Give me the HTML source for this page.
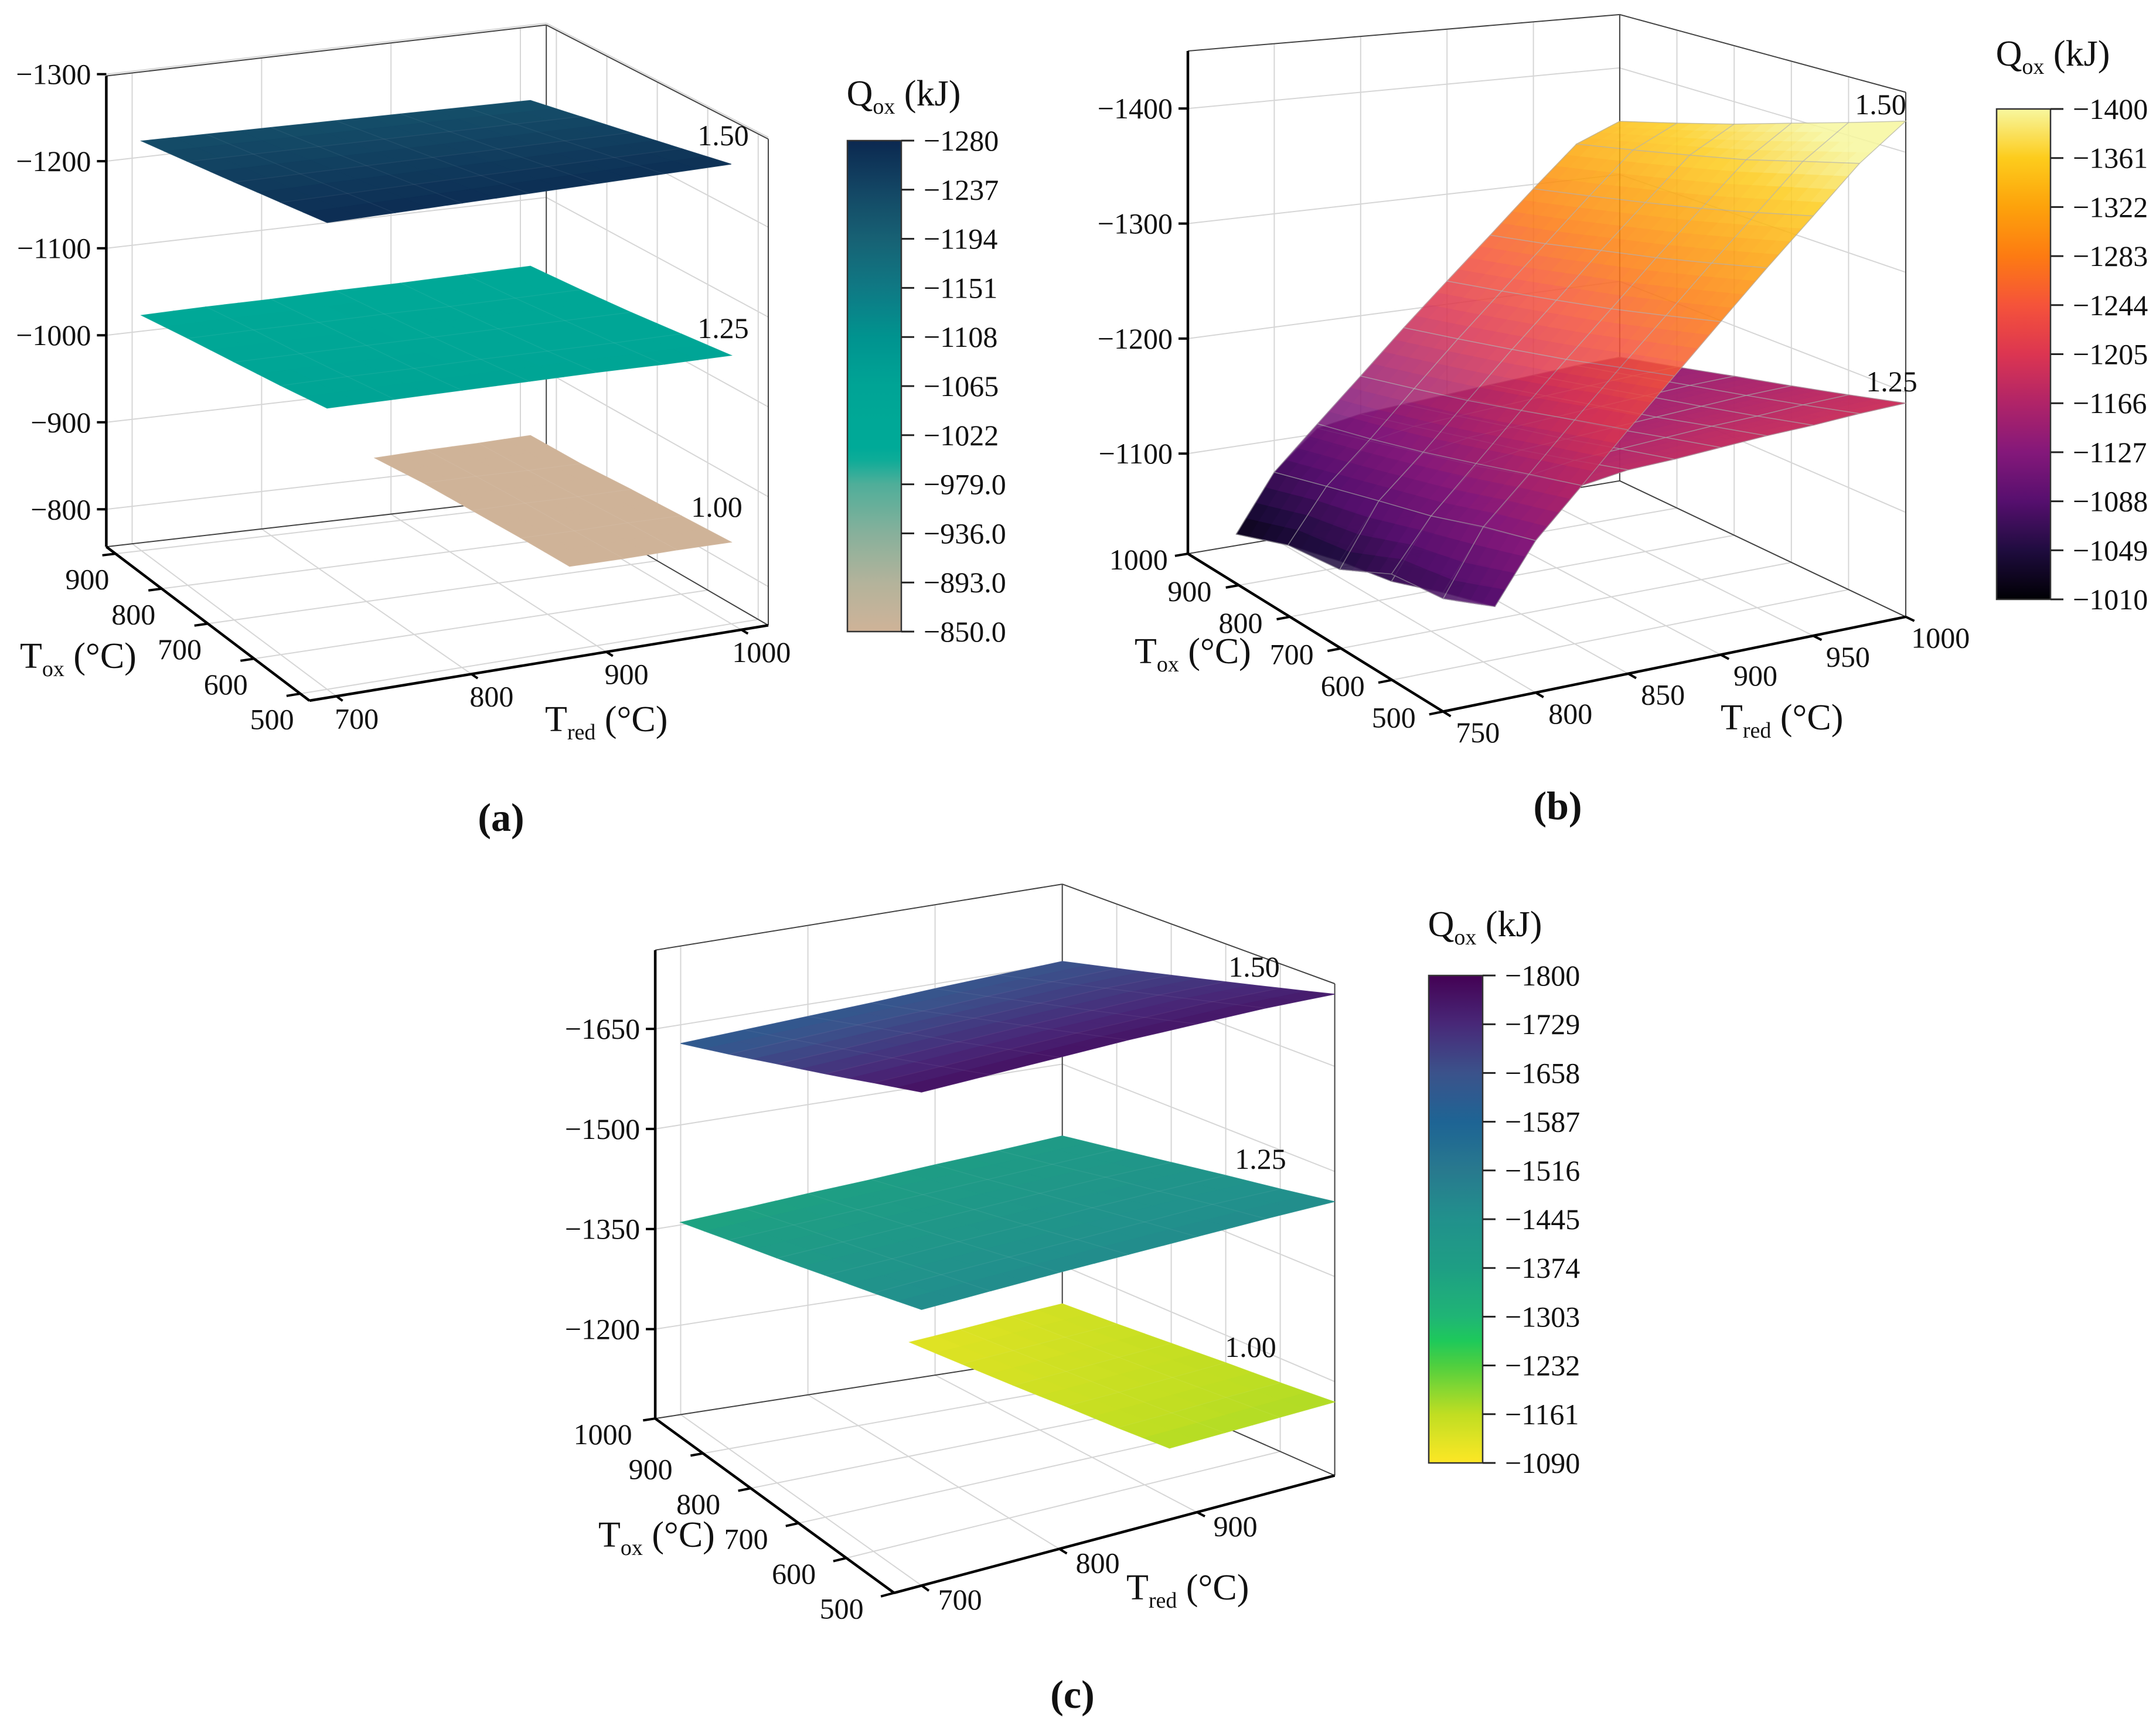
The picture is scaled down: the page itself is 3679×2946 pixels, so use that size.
<!DOCTYPE html>
<html><head><meta charset="utf-8"><style>
html,body{margin:0;padding:0;background:#fff;}
svg{display:block;}
text{font-family:"Liberation Serif",serif;fill:#111;}
</style></head><body>
<svg id="chart" xmlns="http://www.w3.org/2000/svg" width="3679" height="2946" viewBox="0 0 3679 2946">
<rect x="0" y="0" width="3679" height="2946" fill="#fff"/>
</svg>
<script>
// ---------------- DATA ----------------
const aTred = [700,750,800,850,900,950,1000];
const aTox = [500,600,700,800,900];
const aQ150 = [
 [-1275,-1274,-1273,-1272,-1271,-1270,-1269],
 [-1263,-1262,-1261,-1260,-1259,-1258,-1257],
 [-1251,-1250,-1249,-1248,-1247,-1246,-1245],
 [-1239,-1238,-1237,-1236,-1235,-1234,-1233],
 [-1227,-1226,-1225,-1224,-1223,-1222,-1221]];
const aQ125 = [
 [-1069,-1067,-1065,-1063,-1061,-1058,-1056],
 [-1058,-1057,-1055,-1054,-1052,-1050,-1049],
 [-1048,-1047,-1046,-1045,-1044,-1043,-1042],
 [-1038,-1038,-1037,-1037,-1036,-1036,-1036],
 [-1027,-1028,-1028,-1029,-1029,-1030,-1031]];
const aTred100 = [880,920,960,1000];
const aQ100 = [
 [-850,-849,-849,-848],
 [-847,-846,-846,-845],
 [-843,-843,-842,-842],
 [-839,-839,-838,-838],
 [-832,-834,-835,-837]];
const aXTicks = [700,800,900,1000];
const aYTicks = [500,600,700,800,900];
const aZTicks = [-800,-900,-1000,-1100,-1200,-1300];
const aCbarTicks = ["−1280","−1237","−1194","−1151","−1108","−1065","−1022","−979.0","−936.0","−893.0","−850.0"];

const bTred = [778,800,825,850,875,900,925,950,975,1000];
const bTox = [500,600,700,800,900,1000];
const bQ150 = [
 [-1087,-1133,-1170,-1208,-1245,-1283,-1321,-1358,-1396,-1426],
 [-1070,-1122,-1158,-1196,-1233,-1270,-1308,-1345,-1383,-1411],
 [-1066,-1108,-1145,-1183,-1220,-1257,-1295,-1332,-1369,-1396],
 [-1045,-1097,-1132,-1170,-1208,-1245,-1283,-1320,-1357,-1380],
 [-1040,-1085,-1120,-1158,-1196,-1233,-1270,-1308,-1345,-1365],
 [-1023,-1072,-1109,-1146,-1184,-1221,-1258,-1296,-1333,-1350]];
const bQ125 = [
 [-1087,-1133,-1170,-1176,-1178,-1181,-1184,-1186,-1189,-1191],
 [-1075,-1121,-1157,-1163,-1166,-1169,-1172,-1174,-1177,-1179],
 [-1060,-1108,-1143,-1150,-1153,-1156,-1159,-1162,-1165,-1167],
 [-1052,-1097,-1131,-1138,-1141,-1144,-1147,-1150,-1153,-1155],
 [-1040,-1085,-1118,-1125,-1128,-1131,-1134,-1137,-1140,-1142],
 [-1023,-1072,-1105,-1112,-1115,-1118,-1121,-1124,-1127,-1129]];
const bXTicks = [750,800,850,900,950,1000];
const bYTicks = [500,600,700,800,900,1000];
const bZTicks = [-1100,-1200,-1300,-1400];
const bCbarTicks = ["−1400","−1361","−1322","−1283","−1244","−1205","−1166","−1127","−1088","−1049","−1010"];

const cTred = [700,750,800,850,900,950,1000];
const cTox = [500,600,700,800,900,1000];
const cQ150 = [
 [-1774,-1772,-1770,-1768,-1764,-1760,-1753],
 [-1744,-1743,-1743,-1742,-1740,-1738,-1733],
 [-1713,-1714,-1715,-1716,-1716,-1716,-1713],
 [-1683,-1685,-1688,-1690,-1692,-1694,-1693],
 [-1652,-1656,-1660,-1663,-1667,-1671,-1673],
 [-1622,-1627,-1632,-1637,-1643,-1648,-1653]];
const cQ125 = [
 [-1462,-1462,-1462,-1461,-1460,-1459,-1457],
 [-1440,-1442,-1443,-1444,-1445,-1446,-1444],
 [-1419,-1421,-1424,-1426,-1429,-1431,-1432],
 [-1397,-1401,-1405,-1409,-1413,-1417,-1419],
 [-1376,-1381,-1386,-1391,-1396,-1401,-1406],
 [-1354,-1360,-1367,-1373,-1380,-1386,-1393]];
const cTred100 = [880,920,960,1000];
const cQ100 = [
 [-1168,-1169,-1170,-1171],
 [-1158,-1160,-1163,-1165],
 [-1149,-1152,-1156,-1160],
 [-1139,-1144,-1149,-1154],
 [-1130,-1136,-1142,-1148],
 [-1121,-1128,-1136,-1143]];
const cXTicks = [700,800,900];
const cYTicks = [500,600,700,800,900,1000];
const cZTicks = [-1200,-1350,-1500,-1650];
const cCbarTicks = ["−1800","−1729","−1658","−1587","−1516","−1445","−1374","−1303","−1232","−1161","−1090"];

// ---------------- GEOMETRY / STYLE ----------------
const NS = "http://www.w3.org/2000/svg";
const svg = document.getElementById('chart');
function mk(tag, parent){ const e=document.createElementNS(NS,tag); parent.appendChild(e); return e; }
function hex2rgb(h){ return [parseInt(h.slice(1,3),16),parseInt(h.slice(3,5),16),parseInt(h.slice(5,7),16)]; }
function cmap(stops, t){
  t=Math.max(0,Math.min(1,t));
  for(let i=0;i<stops.length-1;i++){
    const a=stops[i], b=stops[i+1];
    if(t<=b[0]){ const u=(t-a[0])/(b[0]-a[0]||1); const ca=hex2rgb(a[1]), cb=hex2rgb(b[1]);
      return 'rgb('+ca.map((v,k)=>Math.round(v+(cb[k]-v)*u)).join(',')+')'; }
  }
  return stops[stops.length-1][1];
}
const cmA=[[0,'#cfb398'],[0.1,'#b3b39b'],[0.2,'#87b09b'],[0.3,'#4fae99'],[0.36,'#00ab98'],[0.5,'#00a495'],[0.6,'#00938f'],[0.7,'#0f7984'],[0.8,'#176174'],[0.9,'#134664'],[1,'#0b2850']];
const cmB=[[0,'#000004'],[0.1,'#1f0c3f'],[0.2,'#560f6e'],[0.3,'#84187a'],[0.4,'#b02468'],[0.5,'#dc3551'],[0.6,'#f5533a'],[0.7,'#fd7b12'],[0.8,'#fda20b'],[0.9,'#fdcc1c'],[1,'#f7f79f']];
const cmC=[[0,'#fde725'],[0.1,'#c0de22'],[0.2,'#4fcf3f'],[0.25,'#1ec95a'],[0.3,'#1fb575'],[0.4,'#1e9e84'],[0.5,'#21918c'],[0.6,'#28798e'],[0.7,'#1e6494'],[0.8,'#3b528b'],[0.9,'#482878'],[1,'#440154']];

const PA={name:'a', t:[0,1.148,0,0.906], O:[460,1320],R:[1142,1178],L:[158,1030],B:[812,935],
  H:{O:920,R:916,L:887,B:888}, xr:[680,1020], yr:[480,920], zr:[757,1298],
  xoff:[30,42], yoff:[-42,48], cm:cmA, crange:[850,1280], mesh:'rgba(255,255,255,0.06)'};
const PB={name:'b', t:[1850,0.957,0,0.829], O:[640,1465],R:[1465,1270],L:[185,1140],B:[955,990],
  H:{O:1155,R:1080,L:1035,B:960}, xr:[750,1000], yr:[500,1000], zr:[1013,1450],
  xoff:[62,43], yoff:[-88,12], cm:cmB, crange:[1010,1400], mesh:'rgba(165,165,165,0.7)'};
const PC={name:'c', t:[900,1.148,1450,0.954], O:[545,1330],R:[1200,1120],L:[190,1018],B:[795,905],
  H:{O:875,R:880,L:838,B:843}, xr:[680,1000], yr:[500,1000], zr:[1066,1768],
  xoff:[57,25], yoff:[-78,28], cm:cmC, crange:[1090,1800], mesh:'rgba(255,255,255,0.06)'};

function proj(P, xv, yv, q){
  const fx=(xv-P.xr[0])/(P.xr[1]-P.xr[0]), fy=(yv-P.yr[0])/(P.yr[1]-P.yr[0]);
  const fz=(Math.abs(q)-P.zr[0])/(P.zr[1]-P.zr[0]);
  const w=[(1-fx)*(1-fy), fx*(1-fy), (1-fx)*fy, fx*fy];
  const zx=P.O[0]*w[0]+P.R[0]*w[1]+P.L[0]*w[2]+P.B[0]*w[3];
  const zy=P.O[1]*w[0]+P.R[1]*w[1]+P.L[1]*w[2]+P.B[1]*w[3];
  const h=P.H.O*w[0]+P.H.R*w[1]+P.H.L*w[2]+P.H.B*w[3];
  return [P.t[0]+P.t[1]*zx, P.t[2]+P.t[3]*(zy-h*fz)];
}
function line(g, p1, p2, stroke, sw){
  const l=mk('line',g); l.setAttribute('x1',p1[0].toFixed(1)); l.setAttribute('y1',p1[1].toFixed(1));
  l.setAttribute('x2',p2[0].toFixed(1)); l.setAttribute('y2',p2[1].toFixed(1));
  l.setAttribute('stroke',stroke); l.setAttribute('stroke-width',sw); return l;
}
function txt(g, x, y, s, size, anchor){
  const t=mk('text',g); t.setAttribute('x',x.toFixed(1)); t.setAttribute('y',y.toFixed(1));
  t.setAttribute('font-size',size); t.setAttribute('text-anchor',anchor||'middle'); t.textContent=s; return t;
}
function subText(g, x, y, main, sub, rest, size){
  const t=mk('text',g); t.setAttribute('x',x); t.setAttribute('y',y); t.setAttribute('font-size',size);
  const a=mk('tspan',t); a.textContent=main;
  const b=mk('tspan',t); b.setAttribute('font-size',Math.round(size*0.62)); b.setAttribute('dy',Math.round(size*0.22)); b.textContent=sub;
  const c=mk('tspan',t); c.setAttribute('dy',-Math.round(size*0.22)); c.textContent=rest;
  return t;
}

function drawBox(P, xt, yt, zt){
  const g=mk('g',svg);
  
  
  const X0=P.xr[0],X1=P.xr[1],Y0=P.yr[0],Y1=P.yr[1],Z0=-P.zr[0],Z1=-P.zr[1];
  const gc='#d6d6d6';
  xt.forEach(x=>{ line(g,proj(P,x,Y0,Z0),proj(P,x,Y1,Z0),gc,2); line(g,proj(P,x,Y1,Z0),proj(P,x,Y1,Z1),gc,2); });
  yt.forEach(y=>{ line(g,proj(P,X0,y,Z0),proj(P,X1,y,Z0),gc,2); line(g,proj(P,X1,y,Z0),proj(P,X1,y,Z1),gc,2); });
  zt.forEach(z=>{ line(g,proj(P,X0,Y1,z),proj(P,X1,Y1,z),gc,2); line(g,proj(P,X1,Y1,z),proj(P,X1,Y0,z),gc,2); });
  const ec='#444';
  line(g,proj(P,X1,Y1,Z0),proj(P,X1,Y1,Z1),ec,2);
  line(g,proj(P,X1,Y0,Z0),proj(P,X1,Y0,Z1),ec,2);
  line(g,proj(P,X0,Y1,Z1),proj(P,X1,Y1,Z1),ec,2);
  line(g,proj(P,X1,Y1,Z1),proj(P,X1,Y0,Z1),ec,2);
  line(g,proj(P,X0,Y1,Z0),proj(P,X1,Y1,Z0),ec,2);
  line(g,proj(P,X1,Y1,Z0),proj(P,X1,Y0,Z0),ec,2);
  return g;
}
function drawAxes(P, xt, yt, zt){
  const g=mk('g',svg);
  
  
  const X0=P.xr[0],X1=P.xr[1],Y0=P.yr[0],Y1=P.yr[1],Z0=-P.zr[0],Z1=-P.zr[1];
  line(g,proj(P,X0,Y0,Z0),proj(P,X1,Y0,Z0),'#000',4.5);
  line(g,proj(P,X0,Y0,Z0),proj(P,X0,Y1,Z0),'#000',4.5);
  line(g,proj(P,X0,Y1,Z0),proj(P,X0,Y1,Z1),'#000',4.5);
  const fs=50;
  xt.forEach(x=>{
    const p=proj(P,x,Y0,Z0), q=proj(P,x,Y0-(Y1-Y0)*0.03,Z0);
    line(g,p,q,'#000',4);
    const t=txt(g,p[0]+P.xoff[0]*P.t[1],p[1]+P.xoff[1]*P.t[3]+17,String(x),fs,'middle');
    
  });
  yt.forEach(y=>{
    const p=proj(P,X0,y,Z0), q=proj(P,X0-(X1-X0)*0.03,y,Z0);
    line(g,p,q,'#000',4);
    const t=txt(g,p[0]+P.yoff[0]*P.t[1],p[1]+P.yoff[1]*P.t[3]+17,String(y),fs,'middle');
    
  });
  zt.forEach(z=>{
    const p=proj(P,X0,Y1,z);
    line(g,p,[p[0]-16,p[1]],'#000',4);
    const t=txt(g,p[0]-26,p[1]+17,'−'+Math.abs(z),fs,'end');
    
  });
  return g;
}
function drawSurface(P, xs, ys, Q, name, opacity, sub){
  const g=mk('g',svg);
  
  
  if(opacity<1) g.setAttribute('opacity',opacity);
  const quads=[];
  const n=sub||1;
  for(let j=0;j<ys.length-1;j++) for(let i=0;i<xs.length-1;i++){
    const q00=Q[j][i], q10=Q[j][i+1], q01=Q[j+1][i], q11=Q[j+1][i+1];
    for(let sj=0;sj<n;sj++) for(let si=0;si<n;si++){
      const corners=[[si,sj],[si+1,sj],[si+1,sj+1],[si,sj+1]].map(([a,b])=>{
        const u=a/n, v=b/n;
        const xv=xs[i]+(xs[i+1]-xs[i])*u, yv=ys[j]+(ys[j+1]-ys[j])*v;
        const qv=q00*(1-u)*(1-v)+q10*u*(1-v)+q01*(1-u)*v+q11*u*v;
        return [xv,yv,qv];
      });
      const pts=corners.map(c=>proj(P,c[0],c[1],c[2]));
      const mean=corners.reduce((s,c)=>s+Math.abs(c[2]),0)/4;
      const depth=(i+(si+0.5)/n)/(xs.length-1)+(j+(sj+0.5)/n)/(ys.length-1);
      quads.push({pts,mean,depth});
    }
  }
  quads.sort((u,v)=>v.depth-u.depth);
  quads.forEach(qd=>{
    const p=mk('polygon',g);
    
    
    const col=cmap(P.cm,(qd.mean-P.crange[0])/(P.crange[1]-P.crange[0]));
    p.setAttribute('points',qd.pts.map(q=>q[0].toFixed(1)+','+q[1].toFixed(1)).join(' '));
    p.setAttribute('fill',col);
    p.setAttribute('stroke',col);
    p.setAttribute('stroke-width',1.2);
  });
  const mg=mk('g',g);
  
  
  for(let j=0;j<ys.length;j++) for(let i=0;i<xs.length-1;i++) line(mg,proj(P,xs[i],ys[j],Q[j][i]),proj(P,xs[i+1],ys[j],Q[j][i+1]),P.mesh,1.5);
  for(let i=0;i<xs.length;i++) for(let j=0;j<ys.length-1;j++) line(mg,proj(P,xs[i],ys[j],Q[j][i]),proj(P,xs[i],ys[j+1],Q[j+1][i]),P.mesh,1.5);
  return g;
}
function drawCbar(P, x, y, w, h, labels, title){
  const g=mk('g',svg);
  
  
  const defs=mk('defs',g); const lg=mk('linearGradient',defs);
  lg.setAttribute('id','grad'+P.name); lg.setAttribute('x1','0'); lg.setAttribute('y1','1'); lg.setAttribute('x2','0'); lg.setAttribute('y2','0');
  for(let k=0;k<=40;k++){ const s=mk('stop',lg); s.setAttribute('offset',k/40); s.setAttribute('stop-color',cmap(P.cm,k/40)); }
  const r=mk('rect',g); r.setAttribute('x',x); r.setAttribute('y',y); r.setAttribute('width',w); r.setAttribute('height',h);
  r.setAttribute('fill','url(#grad'+P.name+')'); r.setAttribute('stroke','#333'); r.setAttribute('stroke-width',2.5);
  labels.forEach((s,k)=>{
    const yy=y+h*k/(labels.length-1);
    line(g,[x+w,yy],[x+w+22,yy],'#222',3);
    const t=txt(g,x+w+38,yy+17,s,50,'start');
    
  });
  const tt=subText(g,0,0,'Q','ox',' (kJ)',62);
  tt.setAttribute('x',x+w/2+50); tt.setAttribute('y',title); tt.setAttribute('text-anchor','middle');
  
  return g;
}
function planeLabel(x,y,s){
  const t=txt(svg,x,y+17,s,50,'middle');
  
  
}

// ---------- Panel a ----------
drawBox(PA,aXTicks,aYTicks,aZTicks);
drawSurface(PA,aTred100,aTox,aQ100,'surface-a-1.00',1,2);
drawSurface(PA,aTred,aTox,aQ125,'surface-a-1.25',1,2);
drawSurface(PA,aTred,aTox,aQ150,'surface-a-1.50',1,2);
drawAxes(PA,aXTicks,aYTicks,aZTicks);
planeLabel(1234,231,'1.50'); planeLabel(1234,560,'1.25'); planeLabel(1223,865,'1.00');
drawCbar(PA,1446,240,92,838,aCbarTicks,180);
let t;
t=subText(svg,34,1140,'T','ox',' (°C)',62);  
t=subText(svg,930,1248,'T','red',' (°C)',62);  
t=txt(svg,855,1418,'(a)',68,'middle'); t.setAttribute('font-weight','bold');  

// ---------- Panel b ----------
drawBox(PB,bXTicks,bYTicks,bZTicks);
drawSurface(PB,bTred,bTox,bQ125,'surface-b-1.25',0.97,4);
drawSurface(PB,bTred,bTox,bQ150,'surface-b-1.50',0.86,4);
drawAxes(PB,bXTicks,bYTicks,bZTicks);
planeLabel(3209,178,'1.50'); planeLabel(3228,651,'1.25');
drawCbar(PB,3407,186,92,837,bCbarTicks,112);
t=subText(svg,1936,1132,'T','ox',' (°C)',62);  
t=subText(svg,2936,1245,'T','red',' (°C)',62);  
t=txt(svg,2658,1398,'(b)',68,'middle'); t.setAttribute('font-weight','bold');  

// ---------- Panel c ----------
drawBox(PC,cXTicks,cYTicks,cZTicks);
drawSurface(PC,cTred100,cTox,cQ100,'surface-c-1.00',1,2);
drawSurface(PC,cTred,cTox,cQ125,'surface-c-1.25',1,2);
drawSurface(PC,cTred,cTox,cQ150,'surface-c-1.50',1,2);
drawAxes(PC,cXTicks,cYTicks,cZTicks);
planeLabel(2140,1650,'1.50'); planeLabel(2151,1978,'1.25'); planeLabel(2134,2299,'1.00');
drawCbar(PC,2438,1665,92,832,cCbarTicks,1598);
t=subText(svg,1021,2640,'T','ox',' (°C)',62);  
t=subText(svg,1922,2730,'T','red',' (°C)',62);  
t=txt(svg,1830,2915,'(c)',68,'middle'); t.setAttribute('font-weight','bold');  
</script>
</body></html>
